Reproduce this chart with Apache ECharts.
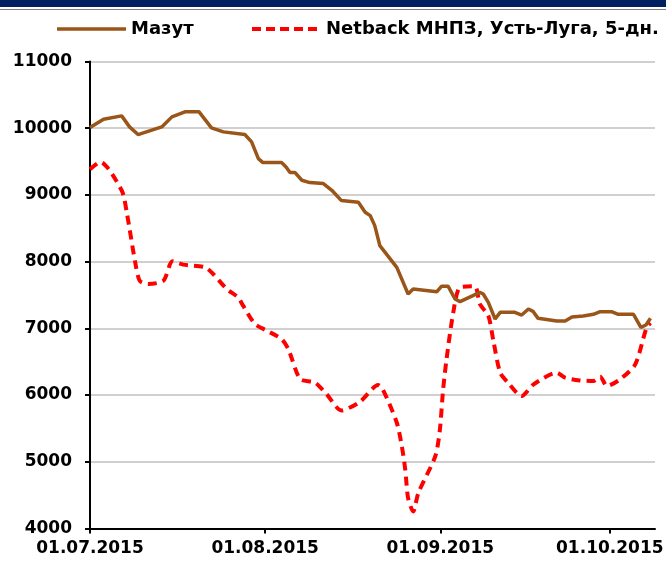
<!DOCTYPE html>
<html>
<head>
<meta charset="utf-8">
<script src="https://cdn.jsdelivr.net/npm/echarts@6/dist/echarts.min.js"></script>
<style>
html,body{margin:0;padding:0;background:#fff;}
#c{width:666px;height:564px;}
</style>
</head>
<body>
<div id="c"></div>
<script>
// Day index from 01.07.2015
var seriesNames = ['Мазут', 'Netback МНПЗ, Усть-Луга, 5-дн.'];
var tickDays = [0, 31, 62, 92];
var tickLabels = ['01.07.2015', '01.08.2015', '01.09.2015', '01.10.2015'];

var mazutDays = [0,2.4,5.6,7.0,8.5,12.7,14.5,16.8,19.3,21.5,23.6,27.4,28.6,29.8,30.6,33.9,34.7,35.4,36.3,37.5,38.9,41.3,42.8,44.5,47.5,48.7,49.6,50.4,51.3,54.3,56.3,57.2,61.4,62.2,63.4,64.6,65.5,69.0,69.6,70.5,71.7,72.6,75.2,76.4,77.6,78.4,79.3,82.6,84.1,85.3,87.3,89.1,90.3,92.3,93.5,96.2,97.5,98.4,99.2];
var mazutValues = [10010,10135,10185,10020,9905,10020,10170,10245,10245,10005,9945,9905,9795,9545,9485,9485,9420,9335,9335,9220,9185,9170,9070,8915,8890,8740,8690,8540,8240,7915,7515,7590,7550,7630,7630,7440,7400,7540,7515,7390,7140,7240,7240,7200,7290,7255,7150,7110,7110,7170,7185,7210,7250,7250,7210,7210,7015,7050,7150];

var netDays = [0,1.8,5.6,6.5,8.0,8.8,10.3,13.0,14.6,16.5,20.4,21.8,24.2,26.2,27.1,29.2,31.3,33.9,35.1,37.2,39.8,41.9,44.5,47.8,51.0,51.8,54.3,55.2,55.8,56.3,57.2,58.1,61.1,61.9,62.5,63.1,64.3,65.5,68.1,69.0,70.5,71.4,72.6,74.0,76.4,78.5,82.6,84.1,86.7,89.1,90.3,91.5,93.8,96.5,98.5,99.2];
var netValues = [9385,9495,9070,8740,7990,7715,7665,7715,8005,7955,7915,7815,7590,7465,7340,7065,6965,6840,6690,6240,6190,6010,5770,5900,6150,6090,5585,5230,4880,4455,4255,4530,5080,5460,6085,6535,7240,7615,7630,7365,7190,6810,6335,6185,5985,6160,6335,6260,6220,6210,6275,6135,6235,6460,7010,7080];

var mazutColor = '#9a5518';
var netColor = '#ff0000';

function pairs(d, v){ var r=[]; for(var i=0;i<d.length;i++) r.push([d[i], v[i]]); return r; }

var font = 'DejaVu Sans';
var chart = echarts.init(document.getElementById('c'), null, {renderer:'canvas'});
chart.setOption({
  animation: false,
  backgroundColor: '#ffffff',
  graphic: [
    {type:'rect', shape:{x:0,y:0,width:666,height:7}, style:{fill:'#002060'}},
    {type:'rect', shape:{x:0,y:9,width:666,height:1}, style:{fill:'#7f7f7f'}},
    {type:'line', shape:{x1:57,y1:29,x2:126,y2:29}, style:{stroke:mazutColor, lineWidth:3.5}},
    {type:'text', x:131, y:29, style:{text:seriesNames[0], fill:'#000', font:'bold 18px "DejaVu Sans"', textVerticalAlign:'middle', verticalAlign:'middle'}},
    {type:'line', shape:{x1:252,y1:29,x2:322,y2:29}, style:{stroke:netColor, lineWidth:4, lineDash:[9,5]}},
    {type:'text', x:326, y:29, style:{text:seriesNames[1], fill:'#000', font:'bold 18px "DejaVu Sans"', textVerticalAlign:'middle', verticalAlign:'middle'}}
  ],
  grid: {left: 90, right: 11, top: 61.5, bottom: 35.5, containLabel: false, outerBoundsMode: 'none'},
  xAxis: {
    type: 'value', min: 0, max: 100,
    axisLine: {show:true, lineStyle:{color:'#000', width:2}},
    axisTick: {show:true, inside:false, length:5, customValues: tickDays, lineStyle:{color:'#000', width:2}},
    axisLabel: {
      customValues: tickDays, margin: 12,
      fontFamily: font, fontWeight:'bold', fontSize:17, color:'#000',
      formatter: function(v){ var i = tickDays.indexOf(v); return i>=0 ? tickLabels[i] : ''; }
    },
    splitLine: {show:false}
  },
  yAxis: {
    type: 'value', min: 4000, max: 11000, interval: 1000,
    axisLine: {show:true, lineStyle:{color:'#000', width:2}},
    axisTick: {show:true, inside:false, length:5, lineStyle:{color:'#000', width:2}},
    axisLabel: {margin: 18, fontFamily: font, fontWeight:'bold', fontSize:17, color:'#000',
      formatter: function(v){ return String(v); }},
    splitLine: {show:true, lineStyle:{color:'#c0c0c0', width:1.5}}
  },
  series: [
    {
      name: seriesNames[0], type:'line', data: pairs(mazutDays, mazutValues),
      symbol:'none', smooth:false, z:3,
      lineStyle:{color:mazutColor, width:3.5},
      itemStyle:{color:mazutColor}
    },
    {
      name: seriesNames[1], type:'line', data: pairs(netDays, netValues),
      symbol:'none', smooth:0.25, z:2,
      lineStyle:{color:netColor, width:4, type:[9,6]},
      itemStyle:{color:netColor}
    }
  ]
});
</script>
</body>
</html>
